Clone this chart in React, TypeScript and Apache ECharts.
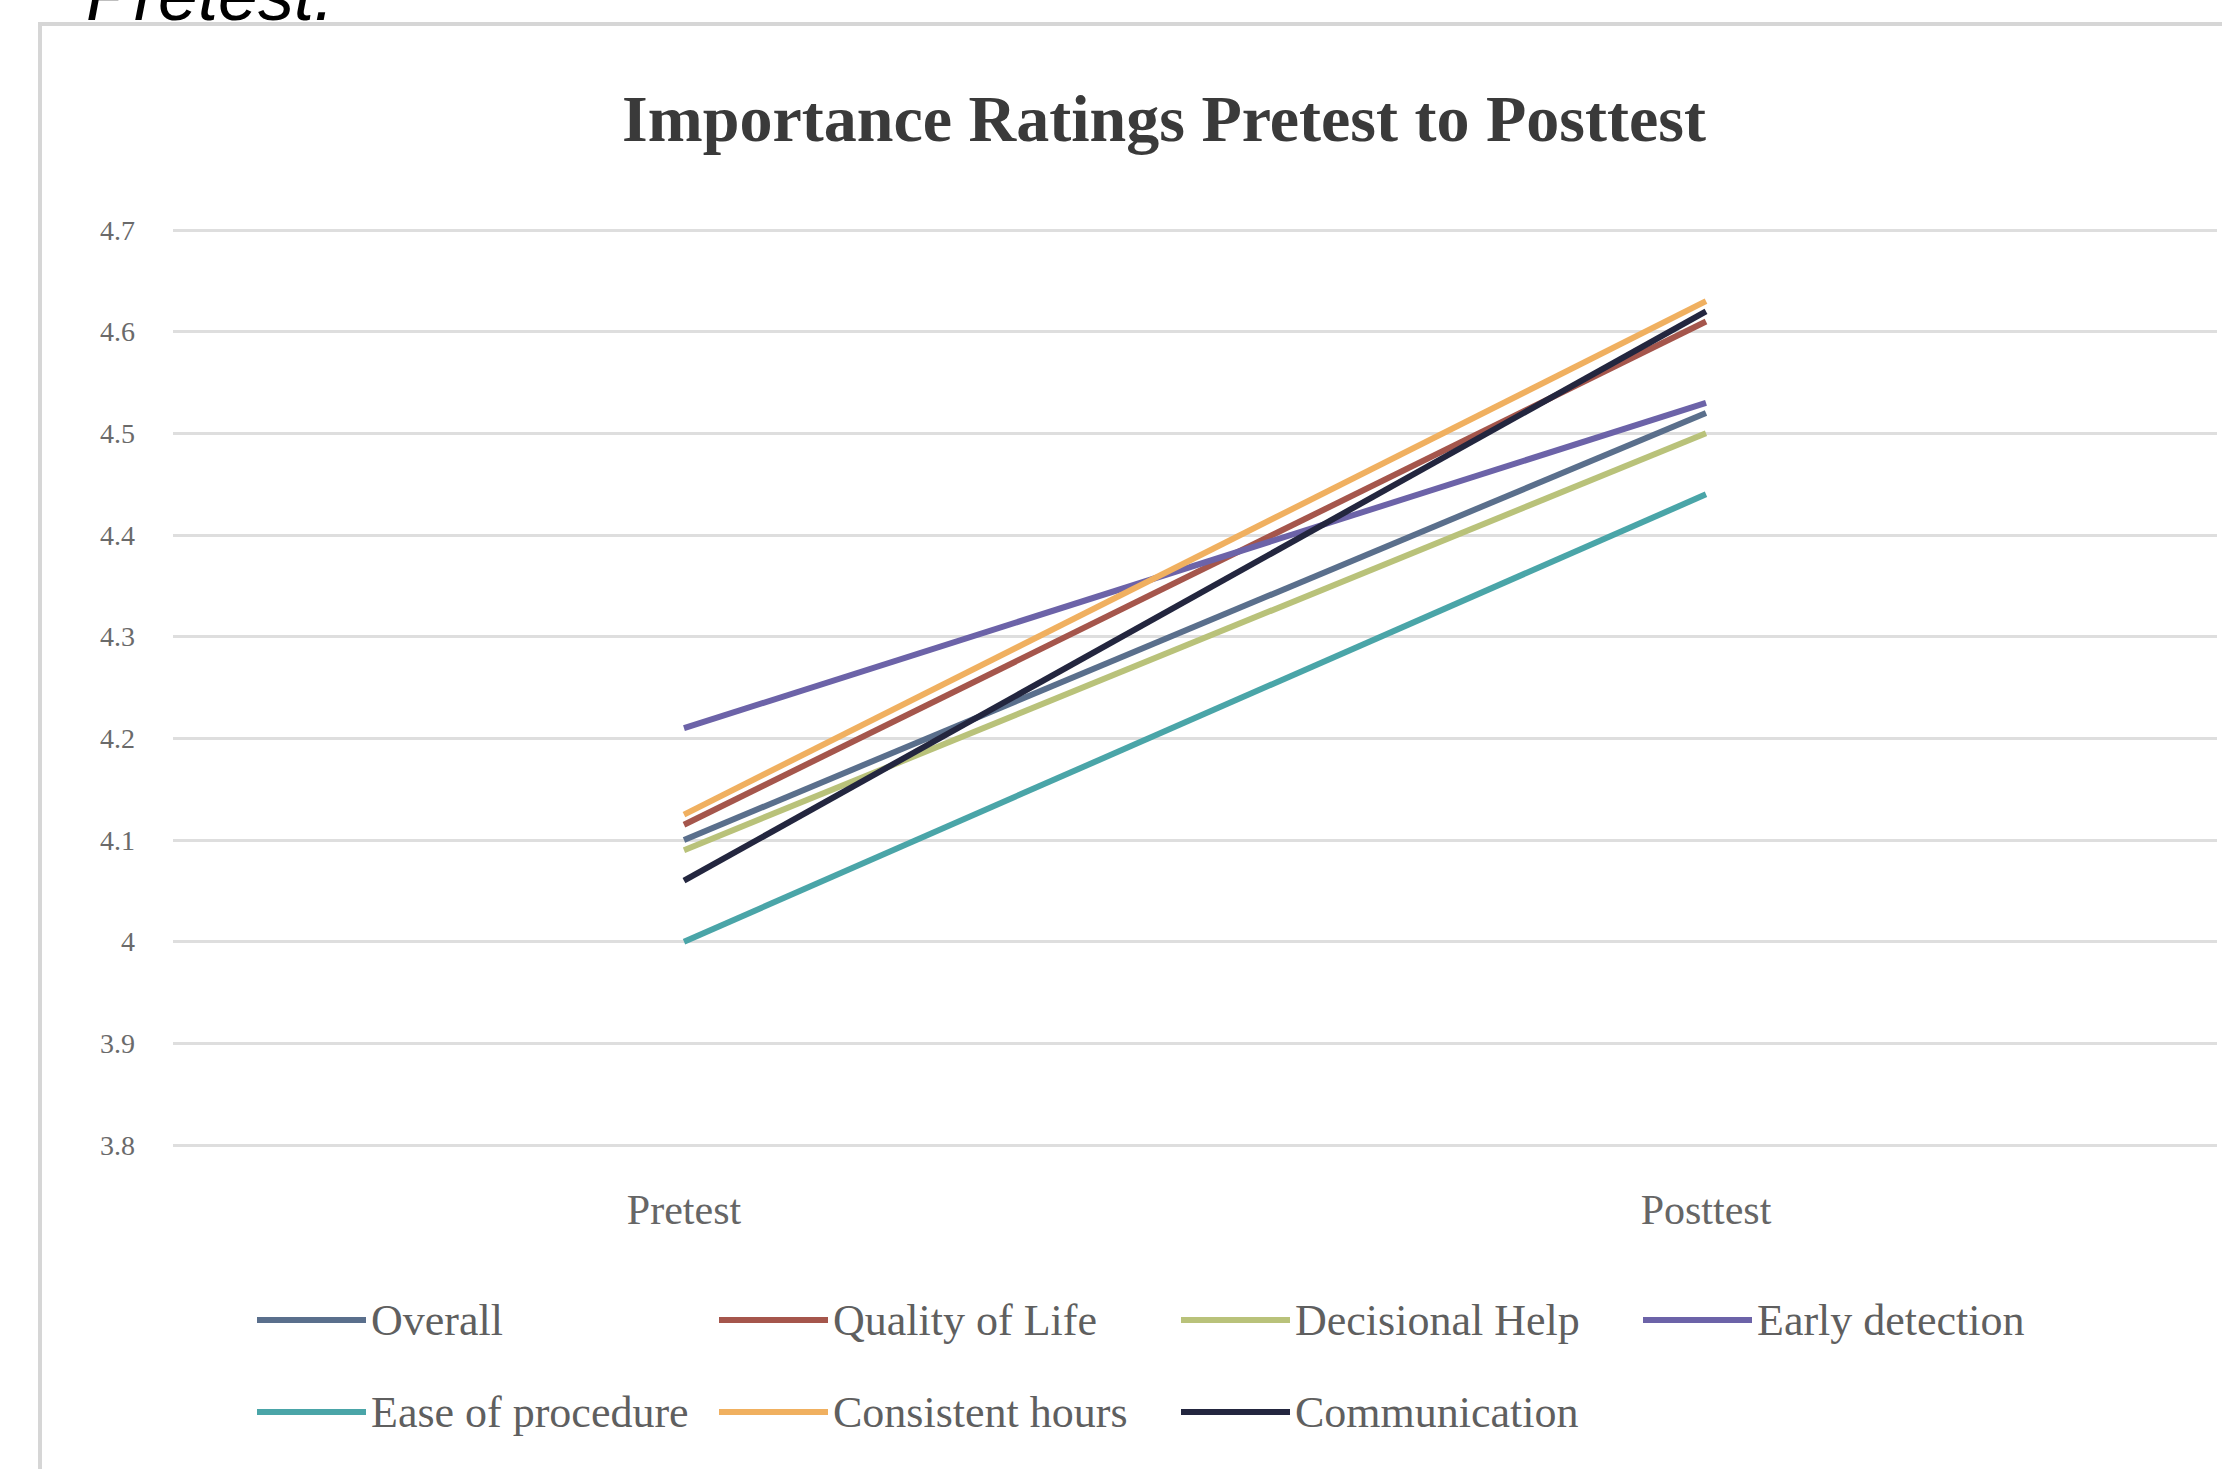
import React, { useEffect, useRef } from "react";
import * as echarts from "echarts";

const categories = ["Pretest", "Posttest"];
const seriesNames = [
  "Overall",
  "Quality of Life",
  "Decisional Help",
  "Early detection",
  "Ease of procedure",
  "Consistent hours",
  "Communication",
];
const overall = [4.1, 4.52];
const qualityOfLife = [4.115, 4.61];
const decisionalHelp = [4.09, 4.5];
const earlyDetection = [4.21, 4.53];
const easeOfProcedure = [4.0, 4.44];
const consistentHours = [4.125, 4.63];
const communication = [4.06, 4.62];
const seriesValues = [
  overall,
  qualityOfLife,
  decisionalHelp,
  earlyDetection,
  easeOfProcedure,
  consistentHours,
  communication,
];
const seriesColors = [
  "#5a6f8c",
  "#a5564c",
  "#b9c27a",
  "#6c63a8",
  "#4aa5a8",
  "#f0b060",
  "#23263f",
];
const yMin = 3.8;
const yMax = 4.7;
const yStep = 0.1;

const SERIF = "'Liberation Serif', 'Times New Roman', serif";

export default function App() {
  const ref = useRef<HTMLDivElement>(null);
  useEffect(() => {
    document.body.style.margin = "0";
    if (!ref.current) return;
    const chart = echarts.init(ref.current, undefined, { renderer: "svg" });
    chart.setOption({
      animation: false,
      backgroundColor: "#ffffff",
      title: {
        text: "Importance Ratings Pretest to Posttest",
        left: 1159,
        textAlign: "center",
        top: 80,
        textStyle: {
          fontFamily: SERIF,
          fontWeight: "bold",
          fontSize: 66,
          color: "#3a3a3a",
        },
      },
      graphic: [
        {
          type: "rect",
          shape: { x: 40, y: 24, width: 2400, height: 1500 },
          style: { fill: "none", stroke: "#d6d6d6", lineWidth: 4 },
          silent: true,
        },
        {
          type: "text",
          x: 86,
          y: 31,
          style: {
            text: "Pretest.",
            font: "italic 72px 'Liberation Sans', Arial, sans-serif",
            fill: "#000000",
            textVerticalAlign: "bottom",
          },
          silent: true,
        },
      ],
      grid: { left: 173, right: 5, top: 230, bottom: 1469 - 1145 },
      xAxis: {
        type: "category",
        data: categories,
        boundaryGap: true,
        axisLine: { show: false },
        axisTick: { show: false },
        axisLabel: {
          margin: 44,
          fontFamily: SERIF,
          fontSize: 42,
          color: "#666666",
        },
      },
      yAxis: {
        type: "value",
        min: yMin,
        max: yMax,
        interval: yStep,
        axisLine: { show: false },
        axisTick: { show: false },
        axisLabel: {
          margin: 38,
          fontFamily: SERIF,
          fontSize: 28,
          color: "#6a6a6a",
          formatter: (v: number) => String(+v.toFixed(1)),
        },
        splitLine: { lineStyle: { color: "#dedede", width: 3 } },
      },
      legend: {
        left: 252,
        top: 1274,
        width: 1900,
        icon: "rect",
        itemWidth: 109,
        itemHeight: 6,
        itemGap: 10,
        data: seriesNames,
        textStyle: {
          fontFamily: SERIF,
          fontSize: 44,
          color: "#5f5f5f",
          width: 338,
          lineHeight: 82,
        },
      },
      series: seriesNames.map((name, i) => ({
        name,
        type: "line",
        data: seriesValues[i],
        showSymbol: false,
        symbol: "none",
        lineStyle: { width: 6, color: seriesColors[i] },
        itemStyle: { color: seriesColors[i] },
      })),
    });
    return () => chart.dispose();
  }, []);
  return (
    <div
      ref={ref}
      style={{ position: "fixed", left: 0, top: 0, width: 2222, height: 1469 }}
    />
  );
}
